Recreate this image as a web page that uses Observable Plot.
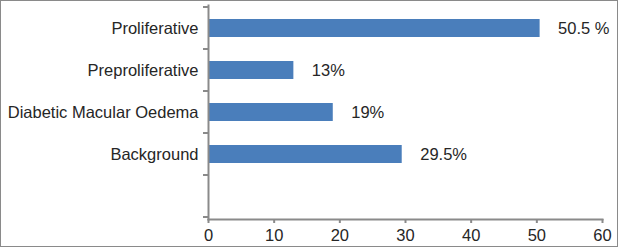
<!DOCTYPE html>
<html>
<head>
<meta charset="utf-8">
<script src="https://cdn.jsdelivr.net/npm/d3@7"></script>
<script src="https://cdn.jsdelivr.net/npm/@observablehq/plot@0.6"></script>
<style>
  html, body { margin: 0; padding: 0; background: #fff; }
  #chart svg { display: block; outline: 1px solid #8a8a8a; outline-offset: -1px; }
</style>
</head>
<body>
<div id="chart"></div>
<script>
const categories = ["Proliferative", "Preproliferative", "Diabetic Macular Oedema", "Background"];
const values = [50.5, 13, 19, 29.5];
const valueLabels = ["50.5 %", "13%", "19%", "29.5%"];
const xTicks = [0, 10, 20, 30, 40, 50, 60];

const data = categories.map((c, i) => ({cat: c, value: values[i], label: valueLabels[i]}));
const yDomain = categories.concat([""]);

const axisColor = "#8a8a8a";
const textColor = "#262626";
const font = "Liberation Sans, Arial, sans-serif";
const fs = 16.5;

const plot = Plot.plot({
  width: 618,
  height: 247,
  marginLeft: 208,
  marginRight: 16,
  marginTop: 5,
  marginBottom: 28,
  style: {fontFamily: font, fontSize: fs + "px", color: textColor, background: "#fff"},
  x: {domain: [0, 60]},
  y: {domain: yDomain, paddingInner: 0.58, paddingOuter: 0.29},
  marks: [
    Plot.barX(data, {x: "value", y: "cat", fill: "#4a7ebb"}),
    Plot.text(data, {x: "value", y: "cat", text: "label", textAnchor: "start", dx: 18, fill: textColor, fontSize: fs}),
    Plot.axisY({tickSize: 0, tickPadding: 10, fontSize: fs, fill: textColor, label: null}),
    Plot.axisX({ticks: xTicks, tickSize: 4, tickPadding: 6, fontSize: fs, fill: textColor, stroke: axisColor, strokeWidth: 2, strokeOpacity: 1, label: null}),
    Plot.frame({anchor: "left", stroke: axisColor, strokeWidth: 2}),
    Plot.frame({anchor: "bottom", stroke: axisColor, strokeWidth: 2})
  ]
});

// tick marks at the band boundaries of the y scale
const ys = plot.scale("y");
const svg = d3.select(plot);
const xs = plot.scale("x");
const x0 = xs.apply(0);
const half = (ys.step - ys.bandwidth) / 2;
const bounds = yDomain.map(c => ys.apply(c) - half).concat([ys.apply(yDomain[yDomain.length - 1]) + ys.bandwidth + half]);
svg.append("g")
  .attr("stroke", axisColor)
  .attr("stroke-width", 2)
  .selectAll("line")
  .data(bounds)
  .join("line")
  .attr("x1", x0 - 5)
  .attr("x2", x0)
  .attr("y1", d => d)
  .attr("y2", d => d);

document.getElementById("chart").appendChild(plot);
</script>
</body>
</html>
